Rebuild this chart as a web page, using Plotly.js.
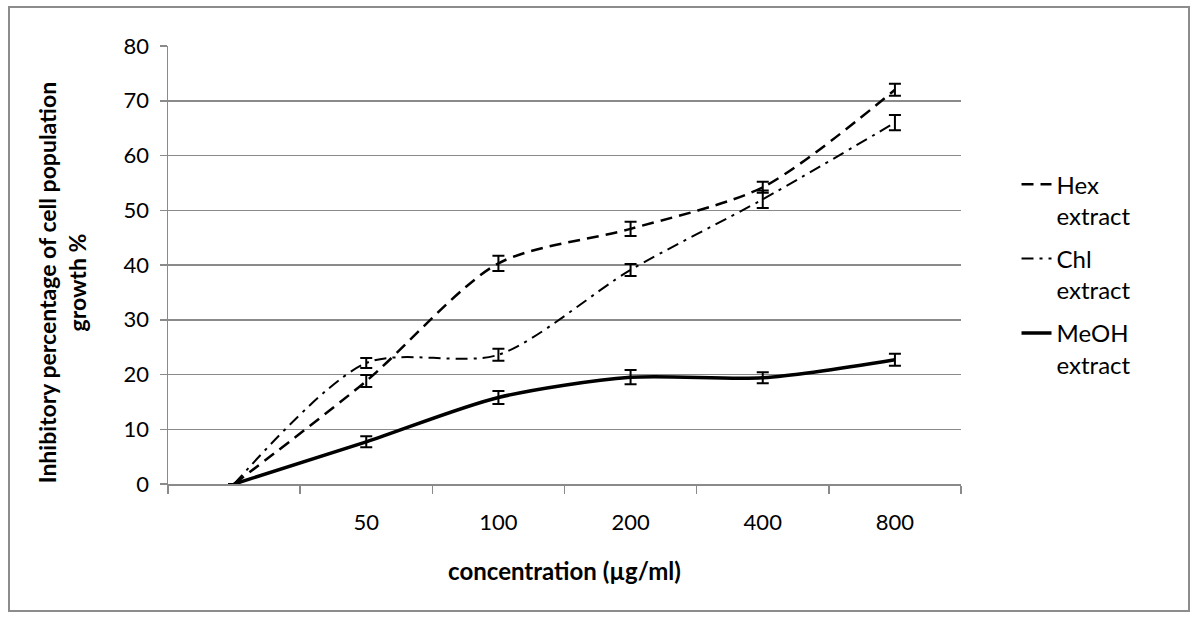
<!DOCTYPE html>
<html>
<head>
<meta charset="utf-8">
<script src="https://cdn.plot.ly/plotly-3.0.1.min.js"></script>
<style>
  html, body { margin: 0; padding: 0; background: #fff; }
  #wrap { position: relative; width: 1200px; height: 621px; }
  #chart { width: 1200px; height: 621px; }
  #frame { position: absolute; left: 8px; top: 6px; width: 1178px; height: 602px;
           border: 2px solid #8c8c8c; pointer-events: none; }
</style>
</head>
<body>
<div id="wrap"><div id="chart"></div><div id="frame"></div></div>
<script>
// Concentration categories (µg/ml); first category is the unlabeled control
const concLabels = ['', '50', '100', '200', '400', '800'];

const hexValues  = [0, 18.8, 40.3, 46.6, 54.2, 72.0];
const hexErrors  = [0, 1.1, 1.4, 1.3, 1.0, 1.1];

const chlValues  = [0, 22.1, 23.6, 39.1, 52.0, 66.0];
const chlErrors  = [0, 0.9, 1.1, 1.1, 1.6, 1.4];

const meohValues = [0, 7.7, 15.8, 19.5, 19.4, 22.7];
const meohErrors = [0, 1.0, 1.2, 1.3, 1.0, 1.1];

const seriesNames = ['Hex<br>extract', 'Chl<br>extract', 'MeOH<br>extract'];
const yTicks = [0, 10, 20, 30, 40, 50, 60, 70, 80];

const xIdx = concLabels.map((_, i) => i);
const boundaries = concLabels.map((_, i) => i - 0.5).concat([concLabels.length - 0.5]);

const FONT = 'Lato, "Open Sans", sans-serif';

function errObj(arr) {
  return { type: 'data', array: arr, visible: true, color: '#000', thickness: 2, width: 6 };
}

const traces = [
  { x: xIdx, y: hexValues, name: seriesNames[0], mode: 'lines', legendgroup: 'a',
    line: { color: '#000', width: 2.5, dash: '12px,7px', shape: 'spline', smoothing: 0.8 },
    error_y: errObj(hexErrors) },
  { x: xIdx, y: chlValues, name: seriesNames[1], mode: 'lines', legendgroup: 'b',
    line: { color: '#000', width: 2, dash: '12px,6px,3px,6px', shape: 'spline', smoothing: 0.8 },
    error_y: errObj(chlErrors) },
  { x: xIdx, y: meohValues, name: seriesNames[2], mode: 'lines', legendgroup: 'c',
    line: { color: '#000', width: 3.5, shape: 'spline', smoothing: 0.8 },
    error_y: errObj(meohErrors) }
];

const layout = {
  width: 1200, height: 621,
  margin: { l: 168, r: 239, t: 46, b: 137 },
  paper_bgcolor: '#fff', plot_bgcolor: '#fff',
  font: { family: FONT, size: 22, color: '#000' },
  showlegend: true,
  legend: {
    x: 1.07, xanchor: 'left', y: 0.735, yanchor: 'top',
    traceorder: 'grouped', tracegroupgap: 9, valign: 'top',
    font: { family: FONT, size: 24, color: '#000' },
    bgcolor: 'rgba(0,0,0,0)'
  },
  xaxis: {
    range: [-0.5, concLabels.length - 0.5],
    tickvals: xIdx, ticktext: concLabels,
    ticks: '', showgrid: false, zeroline: false,
    showline: true, linecolor: '#8a8a8a', linewidth: 1.5,
    ticklabelstandoff: 18,
    tickfont: { family: FONT, size: 22 },
    minor: { tickvals: boundaries, ticks: 'outside', ticklen: 8, tickcolor: '#8a8a8a', tickwidth: 1.5, showgrid: false },
    title: { text: '<b>concentration (µg/ml)</b>', font: { family: FONT, size: 24 }, standoff: 29 },
    fixedrange: true
  },
  yaxis: {
    range: [0, 80], tickvals: yTicks, ticktext: yTicks.map(String),
    ticks: 'outside', ticklen: 7, tickcolor: '#8a8a8a', tickwidth: 1.5,
    tickfont: { family: FONT, size: 22 },
    showgrid: true, gridcolor: '#8a8a8a', gridwidth: 1.5,
    zeroline: false, showline: true, linecolor: '#8a8a8a', linewidth: 1.5,
    ticklabelstandoff: 6,
    fixedrange: true
  },
  annotations: [{
    xref: 'paper', yref: 'paper', x: -0.134, y: 0.46, xanchor: 'center', yanchor: 'middle',
    text: '<b>Inhibitory percentage of cell population<br>growth %</b>',
    textangle: -90, showarrow: false, align: 'center',
    font: { family: FONT, size: 23, color: '#000' }
  }]
};

Plotly.newPlot('chart', traces, layout, { displayModeBar: false, staticPlot: true });
</script>
</body>
</html>
